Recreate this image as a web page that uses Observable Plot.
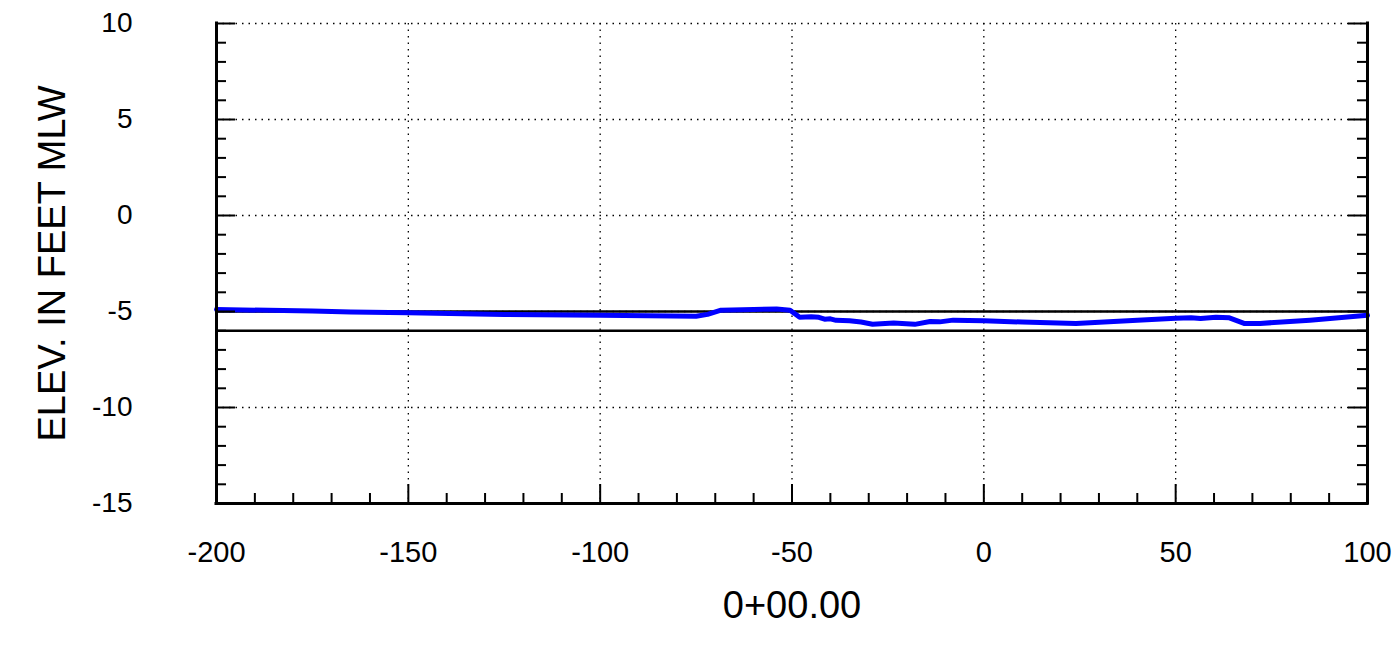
<!DOCTYPE html>
<html><head><meta charset="utf-8">
<script src="https://cdn.jsdelivr.net/npm/d3@7"></script>
<script src="https://cdn.jsdelivr.net/npm/@observablehq/plot@0.6"></script>
<style>html,body{margin:0;padding:0;background:#fff;} svg{display:block}</style>
</head><body><div id="chart"></div>
<script>
const station = [-200, -175, -165, -150, -125, -100, -75, -72, -68.5, -60, -54, -50.5, -48, -45, -43, -41.5, -40, -38.5, -35, -32, -29, -23.5, -18, -14, -11.5, -8, 0, 10, 24, 40, 50, 54, 56.5, 60.5, 64, 68, 72, 85, 100];
const elevation = [-4.9, -4.97, -5.03, -5.07, -5.15, -5.2, -5.25, -5.15, -4.93, -4.9, -4.87, -4.93, -5.3, -5.27, -5.3, -5.4, -5.38, -5.46, -5.48, -5.55, -5.66, -5.6, -5.67, -5.52, -5.54, -5.45, -5.48, -5.55, -5.62, -5.45, -5.35, -5.32, -5.37, -5.3, -5.33, -5.63, -5.62, -5.45, -5.2];
const refLevels = [-5, -6];
const xMajor = [-200, -150, -100, -50, 0, 50, 100];
const xMinor = [-190, -180, -170, -160, -140, -130, -120, -110, -90, -80, -70, -60, -40, -30, -20, -10, 10, 20, 30, 40, 60, 70, 80, 90];
const yMajor = [-15, -10, -5, 0, 5, 10];
const yMinor = [-14, -13, -12, -11, -9, -8, -7, -6, -4, -3, -2, -1, 1, 2, 3, 4, 6, 7, 8, 9];
const xTitle = "0+00.00";
const yTitle = "ELEV. IN FEET MLW";

const W = 1398, H = 646, mL = 216, mR = 31, mT = 23, mB = 143;
const pw = W - mL - mR, ph = H - mT - mB;
const profile = station.map((x, i) => ({x, y: elevation[i]}));
const dotted = {stroke: "black", strokeOpacity: 1, strokeWidth: 1.3, strokeDasharray: "1.5,5"};
const fmt = d => String(d);

const chart = Plot.plot({
  width: W, height: H,
  marginLeft: mL, marginRight: mR, marginTop: mT, marginBottom: mB,
  style: {fontFamily: "'Liberation Sans', Arial, sans-serif", color: "black", background: "white"},
  x: {domain: [-200, 100]},
  y: {domain: [-15, 10]},
  marks: [
    Plot.gridX(xMajor, dotted),
    Plot.gridY(yMajor, dotted),
    Plot.ruleY(refLevels, {stroke: "black", strokeWidth: 2.5}),
    Plot.line(profile, {x: "x", y: "y", stroke: "#0000ff", strokeWidth: 5, strokeLinejoin: "round"}),
    Plot.tickX(xMinor, {x: d => d, insetTop: ph - 10, stroke: "black", strokeWidth: 2}),
    Plot.tickX(xMajor, {x: d => d, insetTop: ph - 19, stroke: "black", strokeWidth: 2}),
    Plot.tickY(yMinor, {y: d => d, insetRight: pw - 10, stroke: "black", strokeWidth: 2}),
    Plot.tickY(yMinor, {y: d => d, insetLeft: pw - 10, stroke: "black", strokeWidth: 2}),
    Plot.tickY(yMajor, {y: d => d, insetRight: pw - 19, stroke: "black", strokeWidth: 2}),
    Plot.tickY(yMajor, {y: d => d, insetLeft: pw - 19, stroke: "black", strokeWidth: 2}),
    Plot.ruleX([-200, 100], {stroke: "black", strokeWidth: 3, strokeLinecap: "square"}),
    Plot.ruleY([-15], {stroke: "black", strokeWidth: 3, strokeLinecap: "square"}),
    Plot.axisX(xMajor, {tickSize: 0, tickPadding: 38, fontSize: 29, label: null, tickFormat: fmt}),
    Plot.axisY(yMajor, {tickSize: 0, tickPadding: 84, fontSize: 28, label: null, tickFormat: fmt}),
    Plot.text([xTitle], {frameAnchor: "bottom", dy: 102, lineAnchor: "middle", textAnchor: "middle", fontSize: 38, fill: "black"}),
    Plot.text([yTitle], {frameAnchor: "left", dx: -164, rotate: -90, lineAnchor: "middle", textAnchor: "middle", fontSize: 38, fill: "black"})
  ]
});
document.getElementById("chart").appendChild(chart);
</script>
</body></html>
